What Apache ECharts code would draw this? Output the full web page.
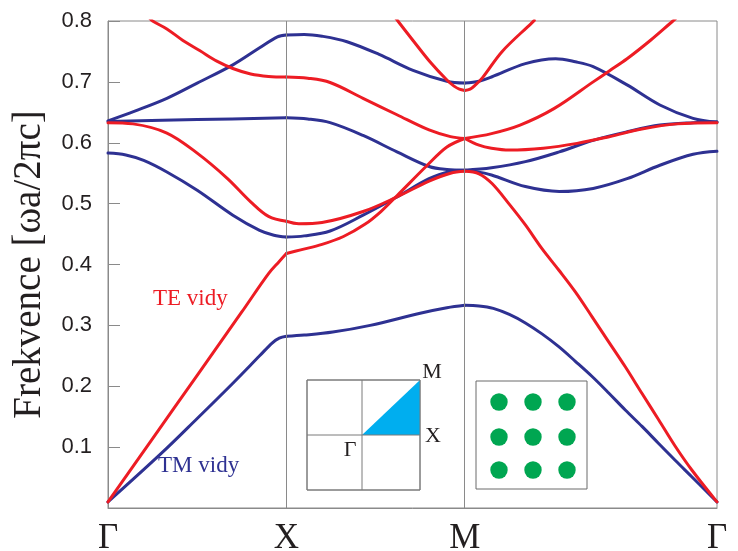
<!DOCTYPE html>
<html>
<head>
<meta charset="utf-8">
<script src="https://cdn.jsdelivr.net/npm/echarts@6/dist/echarts.min.js"></script>
<style>html,body{margin:0;padding:0;background:#fff;}#c{width:738px;height:551px;}</style>
</head>
<body>
<div id="c"></div>
<script>
// Symmetry points along the k-path (Γ-X = 1, X-M = 1, M-Γ = √2)
const kPos = [0, 1, 2, 2 + Math.SQRT2];
const kLabels = ['Γ', 'X', 'M', 'Γ'];
const yTicks = [0.1, 0.2, 0.3, 0.4, 0.5, 0.6, 0.7, 0.8];

// TM bands (blue), per segment
const tmGX1 = [[0,0.01],[0.3,0.09],[0.5,0.147],[0.7,0.205],[0.85,0.25],[0.92,0.271],[0.96,0.279],[1,0.282]];
const tmGX2 = [[0,0.583],[0.1,0.58],[0.2,0.571],[0.33,0.552],[0.5,0.522],[0.7,0.481],[0.85,0.456],[0.93,0.448],[1,0.445]];
const tmGX3 = [[0,0.635],[0.5,0.638],[1,0.641]];
const tmGX4 = [[0,0.636],[0.15,0.652],[0.33,0.673],[0.5,0.698],[0.7,0.728],[0.85,0.756],[0.95,0.774],[1,0.777]];
const tmXM1 = [[1,0.777],[1.1,0.778],[1.2,0.775],[1.34,0.766],[1.52,0.745],[1.71,0.719],[1.9,0.701],[2,0.698]];
const tmXM2 = [[1,0.641],[1.12,0.639],[1.245,0.633],[1.43,0.612],[1.62,0.585],[1.8,0.561],[1.9,0.556],[2,0.555]];
const tmXM3 = [[1,0.445],[1.1,0.447],[1.245,0.455],[1.43,0.481],[1.62,0.511],[1.8,0.541],[1.92,0.553],[2,0.555]];
const tmXM4 = [[1,0.282],[1.1,0.284],[1.26,0.289],[1.47,0.30],[1.75,0.32],[1.9,0.329],[2,0.333]];
const tmMG1 = [[2,0.698],[2.08,0.701],[2.15,0.708],[2.34,0.730],[2.51,0.738],[2.62,0.733],[2.72,0.725],[2.91,0.695],[3.094,0.662],[3.28,0.640],[3.414,0.634]];
const tmMG2 = [[2,0.555],[2.15,0.559],[2.34,0.569],[2.53,0.585],[2.72,0.604],[2.91,0.618],[3.094,0.629],[3.28,0.633],[3.414,0.634]];
const tmMG3 = [[2,0.555],[2.06,0.553],[2.15,0.547],[2.34,0.528],[2.53,0.52],[2.72,0.525],[2.91,0.541],[3.094,0.563],[3.28,0.581],[3.414,0.586]];
const tmMG4 = [[2,0.333],[2.08,0.332],[2.16,0.328],[2.25,0.318],[2.34,0.304],[2.433,0.286],[2.527,0.265],[2.62,0.241],[2.714,0.216],[2.807,0.189],[2.9,0.161],[2.994,0.134],[3.087,0.106],[3.181,0.078],[3.274,0.051],[3.414,0.01]];

// TE bands (red), per segment
const teGX1 = [[0,0.01],[0.25,0.114],[0.5,0.218],[0.75,0.322],[0.9,0.385],[0.96,0.405],[1,0.418]];
const teGX2 = [[0,0.633],[0.14,0.631],[0.33,0.616],[0.5,0.583],[0.667,0.542],[0.8,0.503],[0.9,0.479],[1,0.471]];
const teGX3 = [[0.23,0.806],[0.25,0.80],[0.33,0.787],[0.42,0.768],[0.516,0.751],[0.61,0.734],[0.7,0.722],[0.8,0.713],[0.9,0.709],[1,0.708]];
const teXM1 = [[1,0.418],[1.08,0.424],[1.2,0.433],[1.32,0.446],[1.44,0.466],[1.53,0.487],[1.62,0.513],[1.79,0.563],[1.9,0.593],[2,0.607]];
const teXM2 = [[1,0.471],[1.07,0.467],[1.2,0.469],[1.43,0.487],[1.62,0.511],[1.8,0.537],[1.92,0.55],[2,0.553]];
const teXM3 = [[1,0.708],[1.12,0.706],[1.245,0.699],[1.43,0.673],[1.62,0.646],[1.8,0.621],[1.92,0.61],[2,0.607]];
const teXM4 = [[1.6,0.81],[1.625,0.80],[1.71,0.768],[1.805,0.733],[1.9,0.703],[1.94,0.693],[1.97,0.688],[2,0.686]];
const teMG1 = [[2,0.553],[2.08,0.549],[2.153,0.533],[2.247,0.50],[2.34,0.465],[2.433,0.426],[2.527,0.391],[2.62,0.355],[2.714,0.314],[2.807,0.273],[2.9,0.232],[2.994,0.188],[3.087,0.145],[3.181,0.101],[3.274,0.062],[3.414,0.01]];
const teMG2 = [[2,0.607],[2.08,0.596],[2.15,0.591],[2.25,0.588],[2.44,0.591],[2.63,0.599],[2.81,0.61],[3.0,0.623],[3.19,0.631],[3.414,0.633]];
const teMG3 = [[2,0.607],[2.15,0.615],[2.31,0.629],[2.5,0.656],[2.72,0.70],[2.81,0.718],[2.91,0.738],[3.04,0.768],[3.167,0.80],[3.18,0.803]];
const teMG4 = [[2,0.686],[2.03,0.688],[2.06,0.695],[2.1,0.707],[2.21,0.750],[2.376,0.797],[2.39,0.801]];

const tmBands = [tmGX1, tmGX2, tmGX3, tmGX4, tmXM1, tmXM2, tmXM3, tmXM4, tmMG1, tmMG2, tmMG3, tmMG4];
const teBands = [teGX1, teGX2, teGX3, teXM1, teXM2, teXM3, teXM4, teMG1, teMG2, teMG3, teMG4];

const TM_COLOR = '#2E3192';
const TE_COLOR = '#ED1C24';
const AXIS_GRAY = '#8a8a8a';
const TEXT_COLOR = '#231f20';

function bandSeries(data, color, name) {
  return {
    type: 'line', name: name, data: data, showSymbol: false, symbol: 'none',
    smooth: 0.35, clip: true, silent: true,
    lineStyle: { color: color, width: 3, cap: 'round', join: 'round' },
    z: color === TE_COLOR ? 3 : 2
  };
}

const series = [];
// vertical symmetry-point lines
series.push({
  type: 'line', data: [], silent: true,
  markLine: {
    symbol: 'none', silent: true, animation: false,
    label: { show: false },
    lineStyle: { color: AXIS_GRAY, width: 1, type: 'solid' },
    data: [{ xAxis: kPos[1] }, { xAxis: kPos[2] }]
  }
});
tmBands.forEach(b => series.push(bandSeries(b, TM_COLOR, 'TM')));
teBands.forEach(b => series.push(bandSeries(b, TE_COLOR, 'TE')));

// lattice inset dots (decorative)
const dotCols = [499, 533, 567];
const dotRows = [402, 437, 470];
const dots = [];
dotRows.forEach(y => dotCols.forEach(x => dots.push({
  type: 'circle', shape: { cx: x, cy: y, r: 8.7 }, style: { fill: '#00A651' }, z: 10
})));

const chart = echarts.init(document.getElementById('c'), null, { renderer: 'canvas' });
chart.setOption({
  animation: false,
  backgroundColor: '#fff',
  grid: { left: 108, right: 21, top: 21, bottom: 43, show: true, borderColor: AXIS_GRAY, borderWidth: 1, backgroundColor: 'transparent', containLabel: false, outerBoundsMode: 'none' },
  xAxis: {
    type: 'value', min: kPos[0], max: kPos[3],
    axisLine: { show: true, lineStyle: { color: AXIS_GRAY, width: 1 } },
    axisTick: { show: false },
    splitLine: { show: false },
    axisLabel: {
      customValues: kPos,
      formatter: function (v) {
        let best = 0;
        for (let i = 0; i < kPos.length; i++) if (Math.abs(kPos[i] - v) < Math.abs(kPos[best] - v)) best = i;
        return kLabels[best];
      },
      fontFamily: 'Liberation Serif', fontSize: 35, color: TEXT_COLOR, margin: 13
    }
  },
  yAxis: {
    type: 'value', min: 0, max: 0.8, interval: 0.1,
    name: 'Frekvence [ωa/2πc]', nameLocation: 'middle', nameGap: 59,
    nameTextStyle: { fontFamily: 'Liberation Serif', fontSize: 39, color: TEXT_COLOR },
    axisLine: { show: true, lineStyle: { color: AXIS_GRAY, width: 1 } },
    axisTick: { show: true, inside: true, length: 12, lineStyle: { color: AXIS_GRAY, width: 1 } },
    splitLine: { show: false },
    axisLabel: {
      formatter: function (v) {
        const t = yTicks.find(k => Math.abs(k - v) < 1e-9);
        return t === undefined ? '' : t.toFixed(1);
      },
      fontFamily: 'Liberation Sans', fontSize: 22, color: TEXT_COLOR, margin: 16
    }
  },
  series: series,
  graphic: [
    // Brillouin zone inset
    { type: 'rect', shape: { x: 307, y: 380, width: 113, height: 110 }, style: { fill: '#fff', stroke: '#7a7a7a', lineWidth: 1 }, z: 8 },
    { type: 'polygon', shape: { points: [[362, 435], [420, 435], [420, 380]] }, style: { fill: '#00AEEF' }, z: 9 },
    { type: 'line', shape: { x1: 362, y1: 380, x2: 362, y2: 490 }, style: { stroke: '#7a7a7a', lineWidth: 1 }, z: 10 },
    { type: 'line', shape: { x1: 307, y1: 435, x2: 420, y2: 435 }, style: { stroke: '#7a7a7a', lineWidth: 1 }, z: 10 },
    { type: 'rect', shape: { x: 307, y: 380, width: 113, height: 110 }, style: { fill: 'none', stroke: '#7a7a7a', lineWidth: 1 }, z: 10 },
    { type: 'text', style: { text: 'M', x: 432, y: 372, font: '22px "Liberation Serif"', fill: TEXT_COLOR, textAlign: 'center', textVerticalAlign: 'middle' }, z: 10 },
    { type: 'text', style: { text: 'X', x: 433, y: 436, font: '22px "Liberation Serif"', fill: TEXT_COLOR, textAlign: 'center', textVerticalAlign: 'middle' }, z: 10 },
    { type: 'text', style: { text: 'Γ', x: 350, y: 450, font: '22px "Liberation Serif"', fill: TEXT_COLOR, textAlign: 'center', textVerticalAlign: 'middle' }, z: 10 },
    // lattice inset
    { type: 'rect', shape: { x: 476, y: 381, width: 111, height: 108 }, style: { fill: '#fff', stroke: '#6a6a6a', lineWidth: 1 }, z: 8 }
  ].concat(dots).concat([
    // band annotations
    { type: 'text', style: { text: 'TE vidy', x: 153, y: 299, font: '23px "Liberation Serif"', fill: TE_COLOR, textAlign: 'left', textVerticalAlign: 'middle' }, z: 10 },
    { type: 'text', style: { text: 'TM vidy', x: 158, y: 466, font: '23px "Liberation Serif"', fill: TM_COLOR, textAlign: 'left', textVerticalAlign: 'middle' }, z: 10 }
  ])
});
</script>
</body>
</html>
